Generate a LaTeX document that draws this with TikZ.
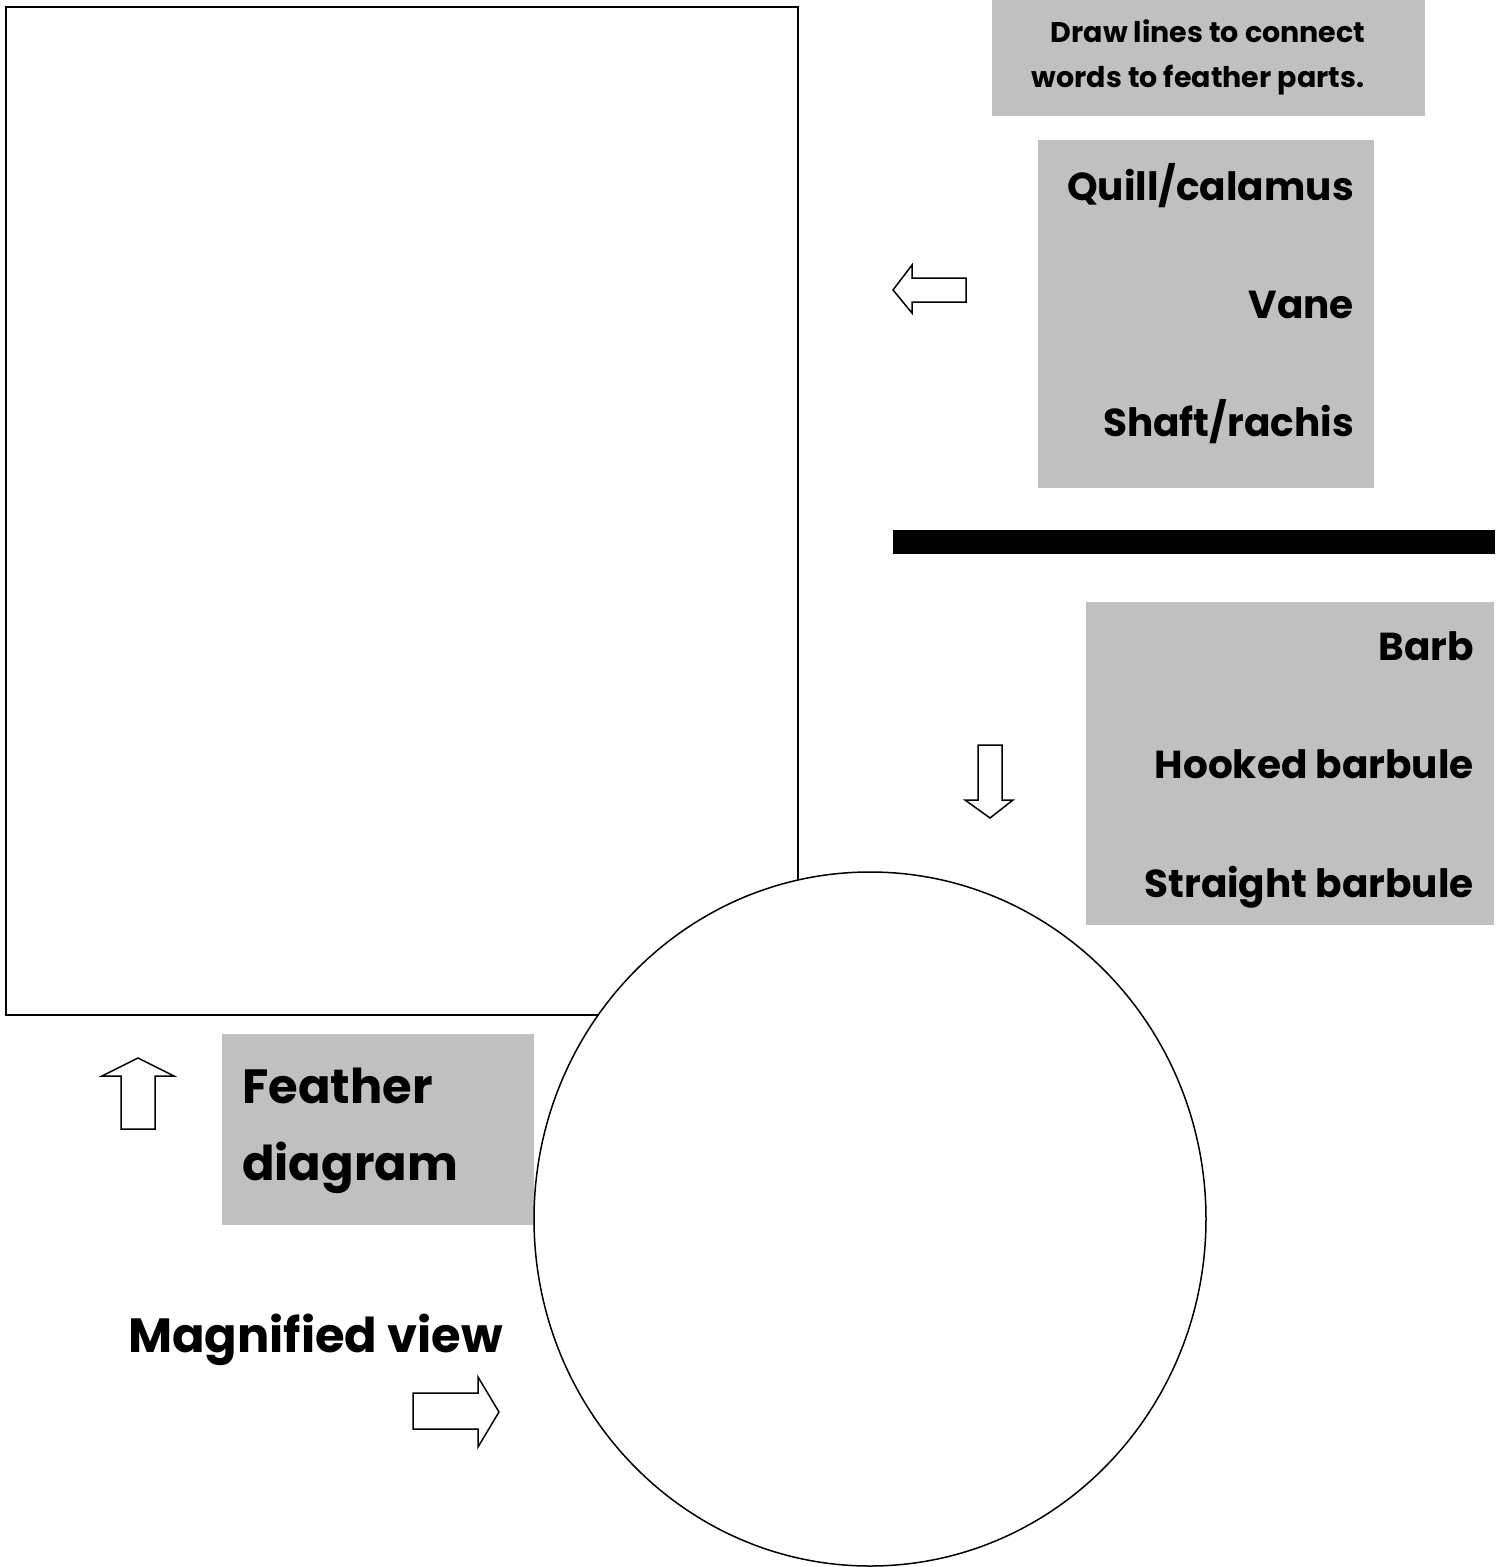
\documentclass[tikz,border=0pt]{standalone}
\usepackage{fontspec}
\setmainfont{Poppins}
\definecolor{boxgray}{HTML}{C0C0C0}
\begin{document}
\begin{tikzpicture}[x=1pt,y=-1pt,
  graybox/.style={fill=boxgray,draw=none},
  outline/.style={draw=black,line width=1.5pt,fill=white},
  hollowarrow/.style={draw=black,line width=1.5pt,fill=white,line join=miter},
  smalltxt/.style={font=\bfseries\fontsize{28.5}{45}\selectfont,inner sep=0pt},
  midtxt/.style={font=\bfseries\fontsize{39}{48}\selectfont,inner sep=0pt},
  bigtxt/.style={font=\bfseries\fontsize{48}{56}\selectfont,inner sep=0pt}]
\useasboundingbox[fill=white] (0,0) rectangle (1501,1567);
% feather drawing frame
\draw[outline] (6,7) rectangle (798,1015);
% gray boxes
\fill[graybox] (992,0) rectangle (1425,116);
\fill[graybox] (1038,140) rectangle (1374,488);
\fill[graybox] (1086,602) rectangle (1494,925);
\fill[graybox] (222,1034) rectangle (534,1225);
% black bar
\fill[black] (893,530) rectangle (1495,554);
% magnified circle
\draw[outline] (870,1219) ellipse [x radius=336, y radius=347];
% instruction
\node[smalltxt,anchor=base] (instr1) at (1208,42) {Draw lines to connect};
\node[smalltxt,anchor=base] (instr2) at (1198,87) {words to feather parts.};
% feather part words
\node[midtxt,anchor=base east] (quill) at (1354,200) {Quill/calamus};
\node[midtxt,anchor=base east] (vane) at (1354,318) {Vane};
\node[midtxt,anchor=base east] (shaft) at (1354,436) {Shaft/rachis};
% barb words
\node[midtxt,anchor=base east] (barb) at (1474,660) {Barb};
\node[midtxt,anchor=base east] (hooked) at (1474,778) {Hooked barbule};
\node[midtxt,anchor=base east] (straight) at (1474,897) {Straight barbule};
% labels
\node[bigtxt,anchor=base west] (feather) at (242,1103) {Feather};
\node[bigtxt,anchor=base west] (diagram) at (242,1180) {diagram};
\node[bigtxt,anchor=base west] (magnified) at (128,1352) {Magnified view};
% hollow arrows
\draw[hollowarrow] (893,290) -- (912,265) -- (912,278) -- (966,278) -- (966,302) -- (912,302) -- (912,313) -- cycle;
\draw[hollowarrow] (990,818) -- (965,800) -- (978,800) -- (978,745) -- (1002,745) -- (1002,800) -- (1013,800) -- cycle;
\draw[hollowarrow] (138,1058) -- (174,1076) -- (155,1076) -- (155,1129) -- (121,1129) -- (121,1076) -- (102,1076) -- cycle;
\draw[hollowarrow] (499,1412) -- (478,1447) -- (478,1429) -- (413,1429) -- (413,1393) -- (478,1393) -- (478,1377) -- cycle;
\end{tikzpicture}
\end{document}
